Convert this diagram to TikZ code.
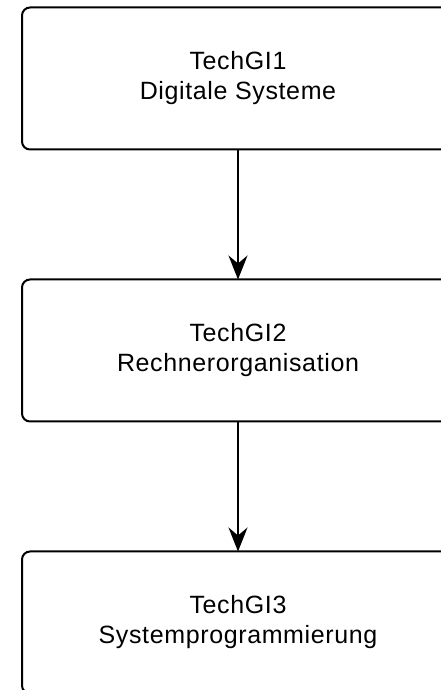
\documentclass[tikz,border=0pt]{standalone}
\usepackage{fontspec}
\setmainfont{Liberation Sans}
\newfontfamily\kursfont[LetterSpace=2.5]{Liberation Sans}
\usetikzlibrary{positioning,arrows.meta}
\tikzset{
  kursbox/.style={draw=black,line width=2pt,rounded corners=8pt,
    minimum width=432pt,minimum height=142pt,outer sep=0pt,
    align=center,font=\kursfont\fontsize{25}{30}\selectfont},
  pfeil/.style={line width=2pt,-{Stealth[length=24pt,width=19pt,inset=8pt]}}
}
\begin{document}
\begin{tikzpicture}[x=1pt,y=1pt]
  % Rahmen
  \clip (0,0) rectangle (441,690);
  % Kurse
  \node[kursbox] (tg1) at (238,611.5) {TechGI1\\Digitale Systeme};
  \node[kursbox,below=130pt of tg1] (tg2) {TechGI2\\Rechnerorganisation};
  \node[kursbox,below=130pt of tg2] (tg3) {TechGI3\\Systemprogrammierung};
  % Pfeile
  \draw[pfeil] (tg1) -- (tg2);
  \draw[pfeil] (tg2) -- (tg3);
\end{tikzpicture}
\end{document}
